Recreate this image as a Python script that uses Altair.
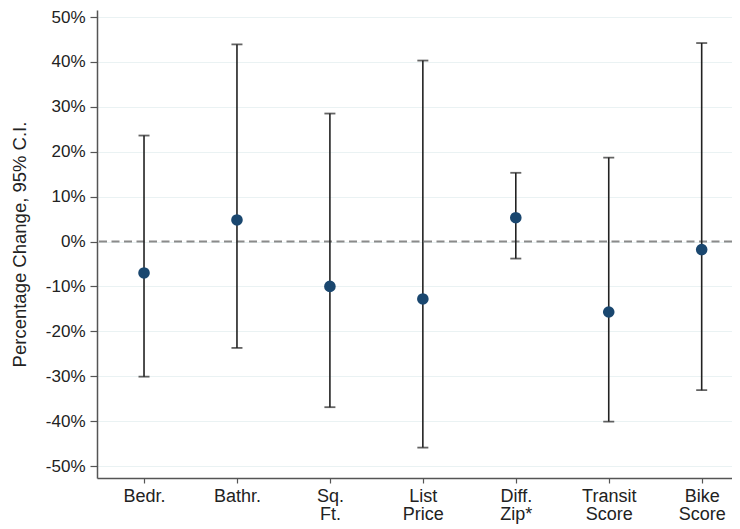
import altair as alt
import pandas as pd

categories = ["Bedr.", "Bathr.", "Sq. Ft.", "List Price", "Diff. Zip*", "Transit Score", "Bike Score"]
estimate = [-7.0, 4.8, -10.0, -12.8, 5.3, -15.7, -1.8]
lower = [-30.1, -23.7, -36.9, -45.9, -3.8, -40.1, -33.1]
upper = [23.6, 43.9, 28.5, 40.3, 15.3, 18.7, 44.2]
y_ticks = [-50, -40, -30, -20, -10, 0, 10, 20, 30, 40, 50]
zero_line = [0]

df = pd.DataFrame({"cat": categories, "est": estimate, "lo": lower, "hi": upper})
zdf = pd.DataFrame({"z": zero_line})

FONT = "Liberation Sans"
YTITLE = "Percentage Change, 95% C.I."

yscale = alt.Scale(domain=[-52.67, 51.56], nice=False, zero=False)
yaxis = alt.Axis(
    values=y_ticks,
    labelExpr="datum.value + '%'",
    title=YTITLE,
    labelFont=FONT,
    labelFontSize=17,
    labelColor="#222222",
    labelPadding=5,
    tickSize=7,
    tickColor="#555555",
    tickWidth=1.2,
    domainColor="#555555",
    domainWidth=1.5,
    grid=True,
    gridColor="#eaf2f3",
    gridWidth=1.2,
    titleFont=FONT,
    titleFontSize=18.5,
    titleFontWeight="normal",
    titleColor="#222222",
    titlePadding=16,
)

xscale = alt.Scale(type="point", padding=0.416, align=0.608)
xaxis = alt.Axis(
    title=None,
    labelAngle=0,
    labelExpr="split(datum.label, ' ')",
    labelFont=FONT,
    labelFontSize=18,
    labelColor="#222222",
    labelLineHeight=18.5,
    labelPadding=4,
    tickSize=5,
    tickColor="#555555",
    tickWidth=1.2,
    domainColor="#555555",
    domainWidth=1.5,
    grid=False,
)


def X():
    return alt.X("cat:N", sort=categories, scale=xscale, axis=xaxis)


def Y(field):
    return alt.Y(field, type="quantitative", scale=yscale, axis=yaxis)


zero = alt.Chart(zdf).mark_rule(color="#8a8a8a", strokeWidth=2, strokeDash=[8, 4.5]).encode(
    y=Y("z")
)

bars = alt.Chart(df).mark_rule(color="#222222", strokeWidth=1.6).encode(
    x=X(), y=Y("lo"), y2="hi:Q"
)

cap_hi = alt.Chart(df).mark_tick(color="#222222", size=11, thickness=1.8, orient="horizontal").encode(
    x=X(), y=Y("hi")
)
cap_lo = alt.Chart(df).mark_tick(color="#222222", size=11, thickness=1.8, orient="horizontal").encode(
    x=X(), y=Y("lo")
)

points = alt.Chart(df).mark_circle(color="#1a476f", size=135, opacity=1).encode(
    x=X(), y=Y("est")
)

chart = (
    alt.layer(zero, bars, cap_hi, cap_lo, points)
    .properties(
        width=635,
        height=468,
        autosize=alt.AutoSizeParams(type="none"),
        padding={"left": 89, "top": 2, "right": 0, "bottom": 50},
        background="white",
    )
    .configure_view(stroke=None)
)

chart.save("out.html", embed_options={"renderer": "svg", "actions": False})
